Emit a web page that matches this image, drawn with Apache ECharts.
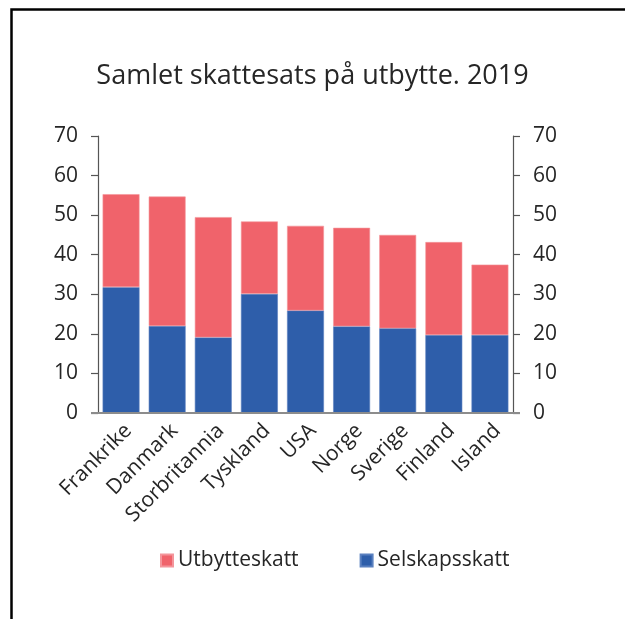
<!DOCTYPE html>
<html>
<head>
<meta charset="utf-8">
<script src="https://cdn.jsdelivr.net/npm/echarts@6/dist/echarts.min.js"></script>
<style>
  html, body { margin: 0; padding: 0; background: #fff; }
  #chart { width: 625px; height: 619px; }
</style>
</head>
<body>
<div id="chart"></div>
<script>
// Countries on the category axis
const countries = ['Frankrike', 'Danmark', 'Storbritannia', 'Tyskland', 'USA', 'Norge', 'Sverige', 'Finland', 'Island'];
// Corporate tax share (bottom of each stack), percent
const selskapsskatt = [31.8, 22.0, 19.1, 30.1, 25.9, 21.9, 21.4, 19.7, 19.7];
// Dividend tax share (top of each stack), percent
const utbytteskatt = [23.5, 32.7, 30.4, 18.3, 21.4, 24.9, 23.6, 23.5, 17.8];
// Value axis ticks
const yTicks = [0, 10, 20, 30, 40, 50, 60, 70];

const FONT = '"Open Sans", "Noto Sans", sans-serif';
const TEXT = '#262626';
const RED = '#F0636B';
const BLUE = '#2E5EAA';
const AXIS = '#555';

const chart = echarts.init(document.getElementById('chart'), null, { renderer: 'canvas' });

const valueAxis = (position) => ({
  type: 'value',
  position: position,
  min: yTicks[0],
  max: yTicks[yTicks.length - 1],
  interval: yTicks[1] - yTicks[0],
  splitLine: { show: false },
  axisLine: { show: true, lineStyle: { color: AXIS, width: 1.2 } },
  axisTick: { show: true, length: 7, inside: false, lineStyle: { color: AXIS, width: 1.2 } },
  axisLabel: { fontFamily: FONT, fontSize: 21, color: TEXT, margin: 20 }
});

chart.setOption({
  animation: false,
  backgroundColor: '#fff',
  textStyle: { fontFamily: FONT },
  title: {
    text: 'Samlet skattesats på utbytte. 2019',
    left: 'center',
    top: 58,
    textStyle: { fontFamily: FONT, fontSize: 27, fontWeight: 'normal', color: TEXT }
  },
  legend: {
    data: ['Utbytteskatt', 'Selskapsskatt'],
    left: 155,
    top: 545,
    icon: 'rect',
    itemWidth: 12,
    itemHeight: 12,
    itemGap: 61,
    textStyle: { fontFamily: FONT, fontSize: 21, color: TEXT }
  },
  grid: { left: 98, right: 112, top: 136, bottom: 206, containLabel: false },
  xAxis: {
    type: 'category',
    data: countries,
    axisLine: { show: false },
    axisTick: { show: false },
    axisLabel: {
      rotate: 45, fontFamily: FONT, fontSize: 21, color: TEXT,
      margin: 7, interval: 0, verticalAlign: 'top'
    }
  },
  yAxis: [valueAxis('left'), valueAxis('right')],
  series: [
    {
      name: 'Selskapsskatt',
      type: 'bar',
      stack: 'total',
      barWidth: '80%',
      data: selskapsskatt,
      itemStyle: { color: BLUE, borderColor: '#5a80bf', borderWidth: 0.6 }
    },
    {
      name: 'Utbytteskatt',
      type: 'bar',
      stack: 'total',
      barWidth: '80%',
      data: utbytteskatt,
      itemStyle: { color: RED, borderColor: '#f4959b', borderWidth: 0.6 }
    }
  ]
});

// Baseline runs past both value axes as far as their outward ticks reach
const y0 = chart.convertToPixel({ yAxisIndex: 0 }, 0);
const grid = chart.getModel().getComponent('grid').coordinateSystem.getRect();
chart.setOption({
  graphic: [
    {
      type: 'line',
      shape: { x1: grid.x - 7, y1: y0, x2: grid.x + grid.width + 7, y2: y0 },
      style: { stroke: '#8c8c8c', lineWidth: 1.8 },
      z: 10,
      silent: true
    },
    {
      type: 'rect',
      shape: { x: 11.5, y: 9.5, width: 700, height: 700 },
      style: { fill: 'none', stroke: '#000', lineWidth: 2.5 },
      silent: true
    }
  ]
});
</script>
</body>
</html>
